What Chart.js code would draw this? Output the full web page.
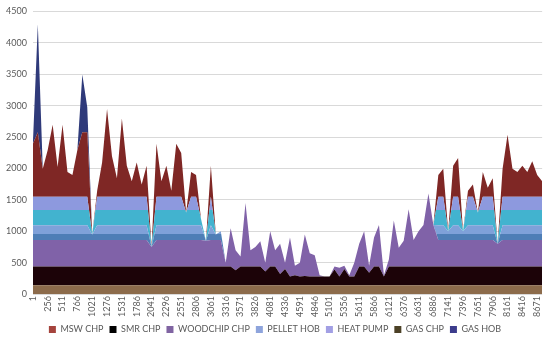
<!DOCTYPE html>
<html>
<head>
<meta charset="utf-8">
<script src="https://cdn.jsdelivr.net/npm/chart.js@4.4.0/dist/chart.umd.min.js"></script>
<style>
    html, body { margin: 0; padding: 0; background: #fff; }
    #wrap { width: 550px; height: 338px; }
</style>
</head>
<body>
<div id="wrap"><canvas id="grafico_carga"></canvas></div>
<script>
// Horas do ano (amostradas a cada 85 h)
const horas = [1,86,171,256,341,426,511,596,681,766,851,936,1021,1106,1191,1276,1361,1446,1531,1616,1701,1786,1871,1956,2041,2126,2211,2296,2381,2466,2551,2636,2721,2806,2891,2976,3061,3146,3231,3316,3401,3486,3571,3656,3741,3826,3911,3996,4081,4166,4251,4336,4421,4506,4591,4676,4761,4846,4931,5016,5101,5186,5271,5356,5441,5526,5611,5696,5781,5866,5951,6036,6121,6206,6291,6376,6461,6546,6631,6716,6801,6886,6971,7056,7141,7226,7311,7396,7481,7566,7651,7736,7821,7906,7991,8076,8161,8246,8331,8416,8501,8586,8671,8756];

// Series (empilhadas de baixo para cima)
const gasChp = [140,140,140,140,140,140,140,140,140,140,140,140,140,140,140,140,140,140,140,140,140,140,140,140,140,140,140,140,140,140,140,140,140,140,140,140,140,140,140,140,140,140,140,140,140,140,140,140,140,140,140,140,140,140,140,140,140,140,140,140,140,140,140,140,140,140,140,140,140,140,140,140,140,140,140,140,140,140,140,140,140,140,140,140,140,140,140,140,140,140,140,140,140,140,140,140,140,140,140,140,140,140,140,140];
const smrChp = [300,300,300,300,300,300,300,300,300,300,300,300,300,300,300,300,300,300,300,300,300,300,300,300,300,300,300,300,300,300,300,300,300,300,300,300,300,300,300,
    300,300,240,300,300,300,300,300,220,300,300,180,260,140,160,140,150,140,140,140,140,140,250,140,260,140,140,300,300,200,300,300,140,300,300,300,300,300,300,300,300,300,300,
    300,300,300,300,300,300,300,300,300,300,300,300,300,300,300,300,300,300,300,300,300,300];
const woodchipChp = [420,420,420,420,420,420,420,420,420,420,420,420,420,420,420,420,420,420,420,420,420,420,420,420,310,420,420,420,420,420,420,420,420,420,420,410,420,420,420,
    60,610,320,160,1010,260,310,400,140,560,260,480,100,620,150,220,660,370,340,20,0,0,50,140,50,20,220,360,560,110,460,660,20,110,730,300,410,910,420,560,660,1160,660,
    420,420,420,420,420,420,420,420,420,420,420,420,360,420,420,420,420,420,420,420,420,420];
const pelletHob = [235,235,235,235,235,235,235,235,235,235,235,235,90,235,235,235,235,235,235,235,235,235,235,235,0,235,235,235,235,235,235,235,235,235,235,0,235,90,140,
    0,0,0,0,0,0,0,0,0,0,0,0,0,0,0,0,0,0,0,0,0,0,0,0,0,0,0,0,0,0,0,0,0,0,0,0,0,0,0,0,0,0,0,
    235,235,140,235,235,140,235,235,235,235,235,235,0,235,235,235,235,235,235,235,235,235];
const heatPump = [455,455,455,455,455,455,455,455,455,455,455,455,0,455,455,455,455,455,455,455,455,455,455,455,0,455,455,455,455,455,455,205,455,455,105,0,455,0,0,
    0,0,0,0,0,0,0,0,0,0,0,0,0,0,0,0,0,0,0,0,0,0,0,0,0,0,0,0,0,0,0,0,0,0,0,0,0,0,0,0,0,0,0,
    455,455,0,455,455,0,455,455,205,455,455,455,0,455,455,455,455,455,455,455,455,455];
const mswChp = [845,1025,445,745,1145,475,1145,395,345,745,1025,1025,0,95,545,1395,645,295,1245,495,245,545,195,495,0,845,245,495,95,845,695,0,395,345,0,0,495,0,0,
    0,0,0,0,0,0,0,0,0,0,0,0,0,0,0,0,0,0,0,0,0,0,0,0,0,0,0,0,0,0,0,0,0,0,0,0,0,0,0,0,0,0,0,
    345,445,0,495,615,0,95,195,0,395,145,295,0,445,985,445,395,495,395,565,345,245];
const gasHob = [0,1720,0,0,0,0,0,0,0,0,920,400,0,0,0,0,0,0,0,0,0,0,0,0,0,0,0,0,0,0,0,0,0,0,0,0,0,0,0,
    0,0,0,0,0,0,0,0,0,0,0,0,0,0,0,0,0,0,0,0,0,0,0,0,0,0,0,0,0,0,0,0,0,0,0,0,0,0,0,0,0,0,0,
    0,0,0,0,0,0,0,0,0,0,0,0,0,0,0,0,0,0,0,0,0,0];

const canvas = document.querySelector('#grafico_carga');
Chart.defaults.font.family = 'Lato';
Chart.defaults.color = '#595959';

// faixas de cor dentro de uma serie (gradiente com paradas duras)
function faixas(limites, cores) {
    return function (ctx) {
        const chart = ctx.chart;
        if (!chart.chartArea) return cores[0];
        const y = chart.scales.y;
        const y0 = y.getPixelForValue(limites[0]);
        const y1 = y.getPixelForValue(limites[limites.length - 1]);
        const g = chart.ctx.createLinearGradient(0, y0, 0, y1);
        for (let i = 0; i < cores.length; i++) {
            const a = (limites[i] - limites[0]) / (limites[limites.length - 1] - limites[0]);
            const b = (limites[i + 1] - limites[0]) / (limites[limites.length - 1] - limites[0]);
            g.addColorStop(a, cores[i]);
            g.addColorStop(b, cores[i]);
        }
        return g;
    };
}

function serie(label, data, cor, legenda, ordem, fill) {
    return {
        label: label,
        data: data,
        backgroundColor: cor,
        borderWidth: 0,
        pointRadius: 0,
        fill: fill,
        tension: 0,
        legendColor: legenda,
        legendOrder: ordem
    };
}

new Chart(canvas, {
    type: 'line',
    data: {
        labels: horas,
        datasets: [
            serie('GAS CHP', gasChp, '#8c6b4b', '#4c4126', 5, 'origin'),
            serie('SMR CHP', smrChp, '#1c0308', '#000000', 1, '-1'),
            serie('WOODCHIP CHP', woodchipChp, '#8062a8', '#8064a2', 2, '-1'),
            serie('PELLET HOB', pelletHob, faixas([860, 955, 1095], ['#4e7eb6', '#7fa1d9']), '#8ea4dc', 3, '-1'),
            serie('HEAT PUMP', heatPump, faixas([1095, 1345, 1555], ['#42b3cf', '#8d99de']), '#a29fe4', 4, '-1'),
            serie('MSW CHP', mswChp, '#7f2725', '#a5443d', 0, '-1'),
            serie('GAS HOB', gasHob, '#2f3a7a', '#3c3c8c', 6, '-1')
        ]
    },
    options: {
        responsive: true,
        maintainAspectRatio: false,
        animation: false,
        layout: { padding: { top: -8, right: 0, left: 0, bottom: -6 } },
        plugins: {
            tooltip: { enabled: false },
            legend: {
                position: 'bottom',
                labels: {
                    boxWidth: 7,
                    boxHeight: 7,
                    padding: 6,
                    font: { size: 9 },
                    generateLabels: function (chart) {
                        const itens = Chart.defaults.plugins.legend.labels.generateLabels(chart);
                        itens.forEach(item => {
                            const ds = chart.data.datasets[item.datasetIndex];
                            item.fillStyle = ds.legendColor;
                            item.strokeStyle = ds.legendColor;
                            item.lineWidth = 0;
                        });
                        return itens;
                    },
                    sort: function (a, b, data) {
                        return data.datasets[a.datasetIndex].legendOrder - data.datasets[b.datasetIndex].legendOrder;
                    }
                }
            }
        },
        scales: {
            x: {
                grid: { display: false, drawTicks: false },
                border: { display: false },
                ticks: {
                    autoSkip: false,
                    minRotation: 90,
                    maxRotation: 90,
                    padding: 2,
                    font: { size: 9 },
                    callback: function (value, index) {
                        return index % 3 === 0 ? String(horas[index]) : null;
                    }
                }
            },
            y: {
                stacked: true,
                min: 0,
                max: 4500,
                grid: { color: '#d9d9d9', drawTicks: false },
                border: { display: false },
                ticks: {
                    stepSize: 500,
                    padding: 6,
                    font: { size: 9 },
                    callback: function (value) {
                        return String(value);
                    }
                }
            }
        }
    }
});
</script>
</body>
</html>
